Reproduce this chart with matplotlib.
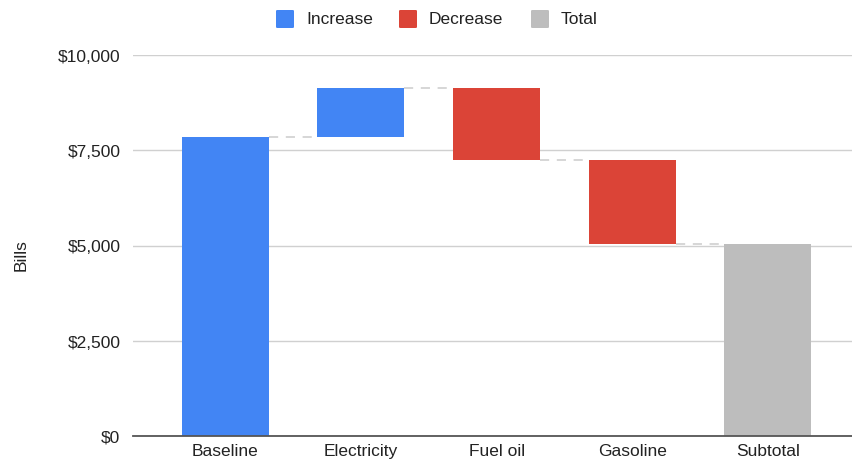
import matplotlib.pyplot as plt
from matplotlib.patches import FancyBboxPatch
from matplotlib.ticker import FuncFormatter, MultipleLocator

plt.rcParams['font.family'] = ['Liberation Sans', 'DejaVu Sans']

categories = ["Baseline", "Electricity", "Fuel oil", "Gasoline", "Subtotal"]
changes = [7860, 1265, -1880, -2215]   # baseline, then the steps
kinds = ["increase", "increase", "decrease", "decrease", "total"]

colors = {"increase": "#4285F4", "decrease": "#DB4437", "total": "#BDBDBD"}

# running totals for the waterfall
bottoms = []
heights = []
ends = []
level = 0
for c in changes:
    start = level
    level += c
    bottoms.append(min(start, level))
    heights.append(abs(c))
    ends.append(level)
bottoms.append(0)
heights.append(level)

fig = plt.figure(figsize=(8.52, 4.64), dpi=100)
ax = fig.add_axes([133 / 852, 1 - 437 / 464, 719 / 852, 381 / 464])

xs = list(range(len(categories)))
w = 0.64
ax.bar(xs, heights, bottom=bottoms, width=w,
       color=[colors[k] for k in kinds], zorder=3)

# dashed connectors between bars
for i, y in enumerate(ends):
    ax.plot([i + w / 2, i + 1 - w / 2], [y, y], color="#CCCCCC", lw=1.1,
            dashes=(6, 5), zorder=2)

ax.set_xlim(-0.68, 4.62)
ax.set_ylim(0, 10000)
ax.yaxis.set_major_locator(MultipleLocator(2500))
ax.yaxis.set_major_formatter(FuncFormatter(lambda v, p: "${:,.0f}".format(v)))
ax.grid(axis="y", color="#D0D0D0", lw=1, zorder=0)
ax.set_xticks(xs)
ax.set_xticklabels(categories)
ax.tick_params(axis="both", length=0, labelsize=12.5, colors="#222222")
ax.tick_params(axis="x", pad=5)
ax.tick_params(axis="y", pad=9)
for s in ["top", "right", "left"]:
    ax.spines[s].set_visible(False)
ax.spines["bottom"].set_color("#555555")
ax.spines["bottom"].set_linewidth(1.3)
ax.spines["bottom"].set_zorder(4)

ax.set_ylabel("Bills", fontsize=12.5, color="#222222")
ax.yaxis.set_label_coords(-0.145, 0.478)

# legend row above the plot
legend_items = [("Increase", "#4285F4", 276), ("Decrease", "#DB4437", 399),
                ("Total", "#BDBDBD", 531)]
for label, col, px in legend_items:
    sq = FancyBboxPatch((px / 852, 1 - 29 / 464), 18 / 852, 18 / 464,
                        boxstyle="round,pad=0,rounding_size=0.002",
                        transform=fig.transFigure, facecolor=col,
                        edgecolor="none")
    fig.patches.append(sq)
    fig.text((px + 30) / 852, 1 - 19.5 / 464, label, fontsize=12.5,
             color="#222222", va="center", ha="left")

fig.savefig("out.png", dpi=100)
